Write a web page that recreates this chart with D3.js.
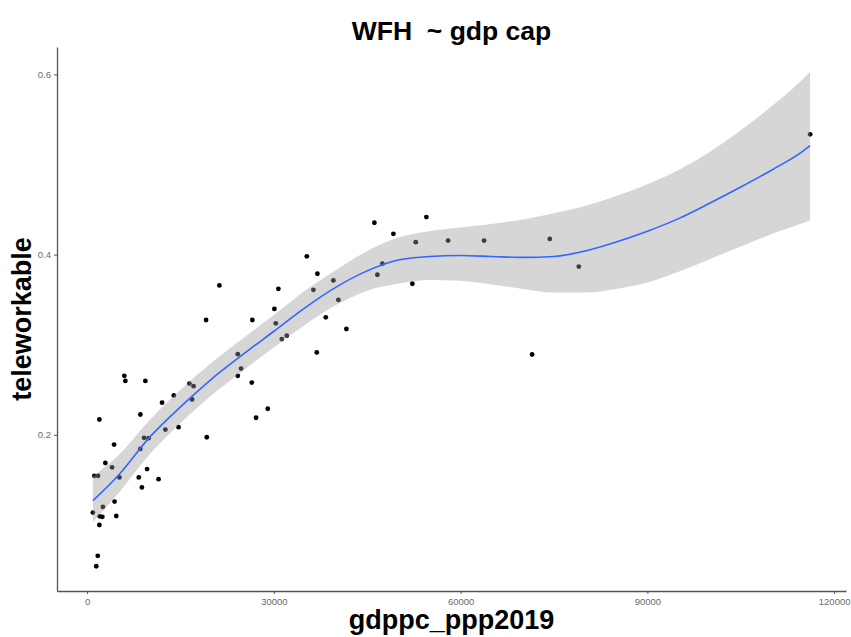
<!DOCTYPE html>
<html>
<head>
<meta charset="utf-8">
<script src="https://cdn.jsdelivr.net/npm/d3@7"></script>
<style>
  body { margin: 0; background: #fff; }
  svg { display: block; font-family: "Liberation Sans", Arial, sans-serif; }
</style>
</head>
<body>
<svg id="chart" width="851" height="637"></svg>
<script>
// ---- data ----
var gdp = [5992, 6153, 9365, 1976, 8562, 12048, 13928, 16434, 17108, 16867,
  12578, 14699, 4337, 9157, 9880, 8546, 2940, 4016, 1173, 1767,
  5189, 9639, 8305, 8803, 11486, 4418, 2538, 932, 2040, 2458,
  4691, 1976, 1719, 1478, 19229, 27149, 29028, 24209, 24739, 26458,
  24209, 21253, 19116, 26554, 30731, 30088, 30313, 31277, 32080, 35293,
  36996, 39566, 36353, 40369, 38345, 41655, 36900, 46153, 49205, 52803,
  47438, 46635, 52257, 54506, 57992, 63775, 74329, 78988, 71486, 116145];
var tele = [0.2655, 0.2599, 0.2599, 0.2171, 0.2226, 0.2357, 0.2438, 0.2569, 0.2541, 0.2393,
  0.2059, 0.2086, 0.1892, 0.1967, 0.1964, 0.1844, 0.1688, 0.1640, 0.1546, 0.1546,
  0.1528, 0.1621, 0.1528, 0.1417, 0.1509, 0.1260, 0.1202, 0.1138, 0.1096, 0.1091,
  0.1100, 0.1000, 0.0658, 0.0542, 0.1974, 0.2190, 0.2290, 0.2655, 0.2736, 0.2580,
  0.2896, 0.3659, 0.3275, 0.3275, 0.3621, 0.3398, 0.3238, 0.3063, 0.3101, 0.3982,
  0.3788, 0.3714, 0.3610, 0.3498, 0.3305, 0.3175, 0.2915, 0.4354, 0.4231, 0.4138,
  0.3900, 0.3777, 0.3677, 0.4417, 0.4156, 0.4156, 0.4175, 0.3868, 0.2892, 0.5335];

// loess fit and confidence band
var fitX = [932, 5000, 10000, 15000, 20000, 25000, 30000, 35000, 40000, 45000,
  50000, 55000, 60000, 65000, 70000, 75000, 80000, 85000, 90000, 95000,
  100000, 105000, 110000, 115000, 116145];
var fitY = [0.127, 0.155, 0.197, 0.231, 0.262, 0.289, 0.315, 0.341, 0.364, 0.382,
  0.394, 0.398, 0.399, 0.398, 0.397, 0.398, 0.404, 0.414, 0.426, 0.440,
  0.457, 0.475, 0.494, 0.515, 0.521];
var fitLo = [0.103, 0.135, 0.178, 0.213, 0.244, 0.271, 0.297, 0.322, 0.344, 0.360,
  0.368, 0.372, 0.371, 0.367, 0.362, 0.358, 0.358, 0.362, 0.369, 0.381,
  0.395, 0.409, 0.423, 0.435, 0.438];
var fitHi = [0.154, 0.177, 0.216, 0.250, 0.280, 0.307, 0.333, 0.360, 0.383, 0.404,
  0.419, 0.426, 0.430, 0.434, 0.439, 0.446, 0.454, 0.465, 0.478, 0.494,
  0.514, 0.538, 0.565, 0.595, 0.603];

var xTicks = [0, 30000, 60000, 90000, 120000];
var yTicks = [0.2, 0.4, 0.6];

var svg = d3.select("#chart");
var padL = 57, padR = 846, padT = 47, padB = 591;

// ggplot style 5% expansion
function expand(lo, hi) {
  var d = (hi - lo) * 0.05;
  return [lo - d, hi + d];
}
var x = d3.scaleLinear()
  .domain(expand(d3.min(gdp), d3.max(gdp)))
  .range([padL, padR]);
var y = d3.scaleLinear()
  .domain(expand(d3.min(tele), d3.max(fitHi)))
  .range([padB, padT]);

var band = fitX.map(function(d, i) {
  return { x: d, y: fitY[i], lo: fitLo[i], hi: fitHi[i] };
});

// points
svg.append("g")
  .selectAll("circle")
  .data(gdp)
  .enter()
  .append("circle")
  .attr("cx", function(d) { return x(d); })
  .attr("cy", function(d, i) { return y(tele[i]); })
  .attr("r", 2.4)
  .attr("fill", "#000");

// confidence band
var area = d3.area()
  .x(function(d) { return x(d.x); })
  .y0(function(d) { return y(d.lo); })
  .y1(function(d) { return y(d.hi); })
  .curve(d3.curveMonotoneX);
svg.append("path")
  .datum(band)
  .attr("d", area)
  .attr("fill", "#999999")
  .attr("fill-opacity", 0.4);

// smooth line
var line = d3.line()
  .x(function(d) { return x(d.x); })
  .y(function(d) { return y(d.y); })
  .curve(d3.curveMonotoneX);
svg.append("path")
  .datum(band)
  .attr("d", line)
  .attr("fill", "none")
  .attr("stroke", "#3366FF")
  .attr("stroke-width", 1.6);

// axes
var xAxis = svg.append("g")
  .attr("transform", "translate(0," + padB + ")")
  .call(d3.axisBottom(x).tickValues(xTicks).tickFormat(d3.format("d")).tickSize(3).tickSizeOuter(0).tickPadding(4));
var yAxis = svg.append("g")
  .attr("transform", "translate(" + padL + ",0)")
  .call(d3.axisLeft(y).tickValues(yTicks).tickFormat(d3.format(".1f")).tickSize(3).tickSizeOuter(0).tickPadding(3));

[xAxis, yAxis].forEach(function(g) {
  g.select(".domain").attr("stroke", "#555").attr("stroke-width", 1.3);
  g.selectAll(".tick line").attr("stroke", "#555");
  g.selectAll(".tick text")
    .attr("fill", "#6b6b6b")
    .style("font-size", "9.5px")
    .style("font-family", "'Liberation Sans', Arial, sans-serif");
});

// titles
svg.append("text")
  .attr("x", (padL + padR) / 2)
  .attr("y", 40)
  .attr("text-anchor", "middle")
  .style("font-size", "26.5px")
  .style("font-weight", "bold")
  .style("white-space", "pre")
  .text("WFH  ~ gdp cap");

svg.append("text")
  .attr("x", (padL + padR) / 2)
  .attr("y", 629)
  .attr("text-anchor", "middle")
  .style("font-size", "27px")
  .style("font-weight", "bold")
  .text("gdppc_ppp2019");

svg.append("text")
  .attr("transform", "translate(31," + (padT + padB) / 2 + ") rotate(-90)")
  .attr("text-anchor", "middle")
  .style("font-size", "27px")
  .style("font-weight", "bold")
  .text("teleworkable");
</script>
</body>
</html>
